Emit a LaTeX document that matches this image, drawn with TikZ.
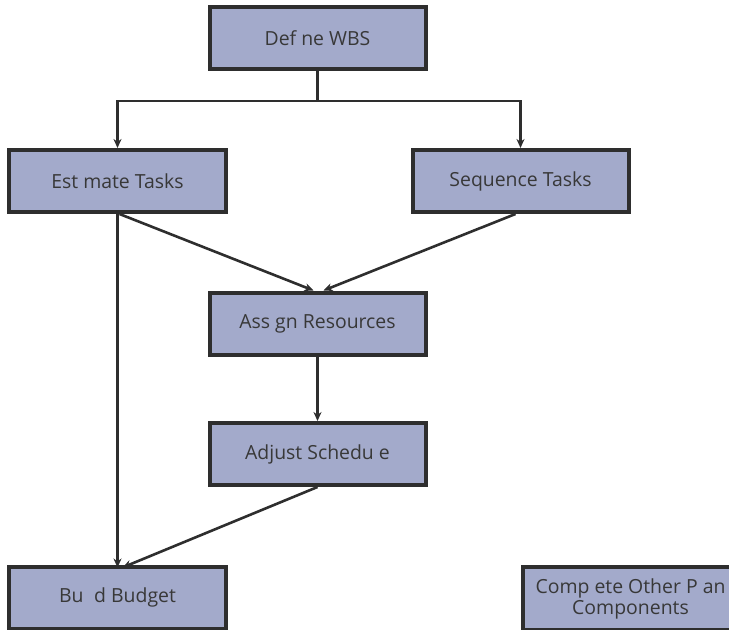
\documentclass[tikz,border=0pt]{standalone}
\usepackage{fontspec}
\setmainfont{Open Sans}
\usetikzlibrary{arrows.meta}
\begin{document}
\begin{tikzpicture}[x=1bp,y=-1bp,
  box/.style={draw=black!82,line width=4bp,fill=boxfill,minimum width=216bp,minimum height=62bp,inner sep=0pt,font=\fontsize{19.5}{21}\selectfont,text=black!78,align=center},
  conn/.style={draw=black!82,line width=2.6bp},
  arr/.style={conn,-{Stealth[length=9bp,width=8bp]}}]
\definecolor{boxfill}{HTML}{A3AACB}
\useasboundingbox (0,0) rectangle (729,630);
\clip (0,0) rectangle (729,630);
\node[box] (wbs) at (317.5,38) {Def ne WBS};
\node[box] (est) at (117.5,181) {Est mate Tasks};
\node[box] (seq) at (520.5,181) {Sequence Tasks};
\node[box] (asg) at (317.5,323.5) {Ass gn Resources};
\node[box] (adj) at (317.5,454) {Adjust Schedu e};
\node[box] (bud) at (117.5,597.5) {Bu\hspace{0.55em}d Budget};
\node[box,minimum height=63bp] (cmp) at (630.5,598.5) {Comp ete Other P an\\Components};
\coordinate (split) at (317.5,101);
\coordinate (bl) at (117.5,101);
\coordinate (br) at (520.5,101);
\draw[conn] (wbs.south) -- (split);
\draw[arr] (split) -- (bl) -- (est.north);
\draw[arr] (split) -- (br) -- (seq.north);
\draw[arr] ([xshift=2bp]est.south) -- ([xshift=-4bp]asg.north);
\draw[arr] ([xshift=-5bp]seq.south) -- ([xshift=6bp]asg.north);
\draw[arr] (asg.south) -- (adj.north);
\draw[arr] (est.south) -- ([yshift=-3bp]bud.north);
\draw[arr] (adj.south) -- ([xshift=5bp,yshift=-3bp]bud.north);
\end{tikzpicture}
\end{document}
